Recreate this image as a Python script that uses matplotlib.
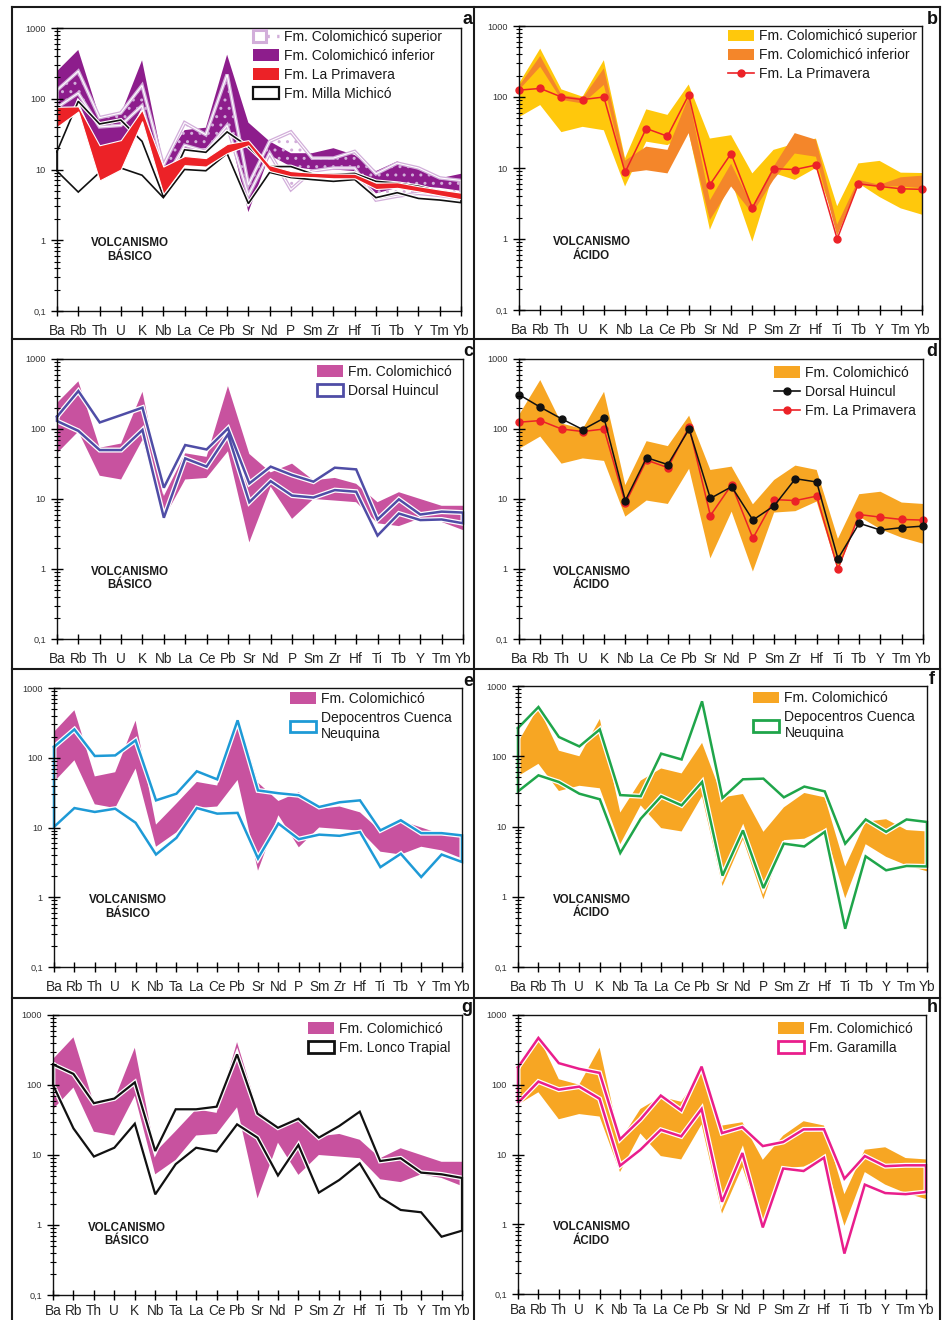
import numpy as np
import matplotlib
matplotlib.use("Agg")
import matplotlib.pyplot as plt
from matplotlib.patches import Patch
from matplotlib.lines import Line2D
from matplotlib.legend_handler import HandlerTuple
from matplotlib.ticker import FixedLocator, FixedFormatter, LogLocator, NullFormatter
import matplotlib.patheffects as pe

plt.rcParams['font.family'] = ['Liberation Sans', 'DejaVu Sans']
plt.rcParams['hatch.linewidth'] = 1.0

# ---------------------------------------------------------------- data
ELEM_20 = ['Ba', 'Rb', 'Th', 'U', 'K', 'Nb', 'La', 'Ce', 'Pb', 'Sr', 'Nd', 'P',
           'Sm', 'Zr', 'Hf', 'Ti', 'Tb', 'Y', 'Tm', 'Yb']
ELEM_21 = ['Ba', 'Rb', 'Th', 'U', 'K', 'Nb', 'Ta', 'La', 'Ce', 'Pb', 'Sr', 'Nd',
           'P', 'Sm', 'Zr', 'Hf', 'Ti', 'Tb', 'Y', 'Tm', 'Yb']
Y_TICKS = [0.1, 1, 10, 100, 1000]
Y_TICK_LABELS = ['0,1', '1', '10', '100', '1000']

# (a) basic volcanism
sup_hi = [132, 245, 54, 63, 154, 11.4, 46, 31, 220, 6.1, 25, 34, 14.5, 14.5, 18, 8.7, 12.3, 10.5, 7.6, 7.0]
sup_lo = [75, 120, 40, 42, 80, 6.5, 22, 18, 42, 4.3, 17, 5.2, 9.5, 10.5, 10.5, 3.7, 4.2, 4.6, 4.3, 3.9]
inf_hi = [245, 490, 55, 60, 350, 12, 36, 39, 420, 46, 25, 17, 17, 20, 16, 9.5, 13, 10, 7.5, 8.7]
inf_lo = [45, 90, 20, 19, 75, 5.5, 19, 20, 45, 2.5, 16, 11, 10, 10, 9.5, 4.6, 5.5, 5.8, 5.5, 5.0]
pri_hi = [77, 78, 22, 26, 70, 11, 15.5, 14.5, 23, 26, 11.5, 9.5, 9, 8.8, 8.7, 6.5, 6.6, 5.8, 5.2, 4.7]
pri_lo = [40, 66, 7, 10, 48, 4.5, 11.5, 11, 17, 22, 9.5, 8, 7.8, 7.5, 7.5, 5.3, 5.5, 4.9, 4.3, 3.8]
mil_hi = [18, 92, 44, 50, 25, 4.2, 19, 17.5, 34, 21, 11, 11, 8.7, 8.5, 8.8, 6.8, 6.4, 5.8, 4.9, 4.4]
mil_lo = [9.5, 4.8, 9.1, 10.5, 8.3, 4.0, 10, 9.6, 16.8, 3.3, 9.1, 7.7, 7.2, 6.8, 7.2, 4.0, 4.7, 3.9, 3.7, 3.4]

# (b) acid volcanism
yel_hi = [155, 480, 128, 101, 330, 13.7, 67, 56, 150, 26, 29, 8.4, 18, 22, 26, 2.9, 11.6, 12.6, 8.6, 8.5]
yel_lo = [52, 77, 32, 38, 34, 5.5, 23.5, 21, 32, 1.35, 6.8, 0.92, 8.5, 6.8, 10, 1.5, 6.1, 3.9, 2.7, 2.2]
ora_hi = [143, 378, 107, 96, 253, 12.7, 20, 18, 100, 3.5, 11.5, 2.85, 10.4, 31, 25, 1.6, 6.8, 5.8, 7.4, 7.8]
ora_lo = [125, 267, 91, 81, 148, 8.5, 9.3, 8.4, 31, 1.85, 5.5, 2.3, 6.8, 16, 14.4, 1.1, 5.8, 5.5, 5.5, 5.2]
pri_acid = [125, 132, 100, 92, 100, 8.7, 36, 28, 107, 5.8, 16, 2.75, 9.8, 9.5, 11, 1.0, 6.0, 5.5, 5.1, 5.0]

# (c, e, g) Colomichicó basic envelope; (d, f, h) Colomichicó acid envelope
basic_hi = [235, 480, 54, 62, 340, 11, 45, 40, 410, 44, 24, 32, 18.5, 20, 16.5, 9, 12.5, 10, 8, 8]
basic_lo = [45, 92, 21.5, 19, 70, 5.3, 19, 20, 48, 2.4, 15, 5.2, 10, 9.5, 9, 4.5, 4.1, 5.3, 4.7, 3.6]
basic_ta_hi, basic_ta_lo = 22, 8.5
acid_hi = [158, 500, 120, 100, 340, 15.8, 67, 57, 155, 26, 29, 8.4, 18.7, 30, 26, 2.7, 11.7, 12.7, 8.9, 8.5]
acid_lo = [52, 78, 32, 38, 35, 5.6, 9.5, 8.5, 27, 1.42, 6.6, 0.92, 6.4, 6.7, 9.2, 0.95, 5.6, 3.7, 2.8, 2.3]
acid_ta_hi, acid_ta_lo = 45, 20

# (c) Dorsal Huincul basic
dhb_hi = [150, 349, 124, 158, 202, 14.5, 59, 51, 102, 16.7, 29, 22, 17.7, 28, 26.5, 5.1, 9.9, 6.0, 6.6, 6.4]
dhb_lo = [130, 94, 50, 50, 97, 5.4, 38, 29, 84, 9.0, 18, 11.2, 10.5, 13.4, 12.7, 3.0, 6.2, 5.0, 5.1, 4.5]
# (d) Dorsal Huincul acid
dh_acid = [310, 205, 140, 98, 143, 9.5, 39, 31, 100, 10.2, 15, 5.0, 8.0, 19.5, 17.5, 1.4, 4.5, 3.6, 3.9, 4.1]

# (e) / (f) Depocentros Cuenca Neuquina
dep_e_hi = [143, 255, 106, 108, 178, 24.5, 30.5, 64, 49, 344, 34, 31, 29, 19.7, 23, 24.5, 9.1, 12.7, 8.3, 8.3, 7.7]
dep_e_lo = [10.2, 19, 16.7, 18.6, 11.7, 4.1, 7.1, 19, 15.8, 16.2, 3.6, 11.4, 6.8, 7.9, 7.6, 8.6, 2.7, 4.2, 1.95, 4.1, 3.2]
dep_f_hi = [252, 502, 188, 138, 241, 28, 27, 109, 90, 605, 25.5, 47, 48, 26, 37, 31.6, 5.7, 12.6, 8.4, 12.6, 11.6]
dep_f_lo = [31.6, 53.5, 43, 29.3, 24.4, 4.2, 12.9, 26.9, 20, 43, 2.0, 8.8, 1.33, 5.7, 5.2, 8.4, 0.35, 3.76, 2.38, 2.74, 2.7]

# (g) Fm. Lonco Trapial ; (h) Fm. Garamilla
lt_hi = [197, 144, 55, 64, 109, 11.4, 45, 45, 49, 274, 39, 24.5, 33, 17.7, 26, 41.6, 8.2, 9.0, 5.6, 5.3, 4.7]
lt_lo = [100, 24, 9.5, 12.7, 28, 2.74, 7.4, 12.7, 11.2, 27.4, 17.7, 5.1, 13.9, 2.9, 4.4, 7.6, 2.5, 1.64, 1.52, 0.68, 0.83]
gar_hi = [178, 469, 204, 169, 148, 16.5, 31.8, 70, 43, 182, 20.3, 24.7, 13.2, 15.1, 22.9, 23, 4.5, 9.5, 6.8, 7.0, 7.0]
gar_lo = [55, 111, 85, 94, 63, 6.9, 11.7, 22.6, 18.2, 45, 2.1, 10.5, 0.90, 6.3, 5.8, 9.0, 0.38, 3.7, 2.8, 2.7, 2.9]

# ---------------------------------------------------------------- colours
PURPLE = '#8D1D8C'
LILAC = '#D2AEDA'
RED = '#EC2227'
YELLOW = '#FFC80C'
ORANGE_B = '#F4862A'
ORANGE = '#F7A623'
PINK = '#C8529F'
VIOLET = '#4F4DA6'
BLUE = '#1E9AD6'
GREEN = '#1FA54A'
MAGENTA = '#E91E8C'
BLACK = '#111111'

W, H = 947, 1320
fig = plt.figure(figsize=(W / 100, H / 100), dpi=100)


def add_axes(l, r, t, b):
    return fig.add_axes([l / W, 1 - b / H, (r - l) / W, (b - t) / H])


def with_ta(values, ta):
    v = list(values)
    return v[:6] + [ta] + v[6:]


def style_axes(ax, elems, label, xpad=6):
    n = len(elems)
    ax.set_yscale('log')
    ax.set_ylim(0.1, 1000)
    ax.set_xlim(0, n - 1)
    ax.xaxis.set_major_locator(FixedLocator(range(n)))
    ax.xaxis.set_major_formatter(FixedFormatter(elems))
    ax.yaxis.set_major_locator(FixedLocator(Y_TICKS))
    ax.yaxis.set_major_formatter(FixedFormatter(Y_TICK_LABELS))
    ax.yaxis.set_minor_locator(LogLocator(base=10, subs=np.arange(2, 10), numticks=20))
    ax.yaxis.set_minor_formatter(NullFormatter())
    ax.tick_params(axis='x', direction='inout', length=7, width=1.0, pad=xpad,
                   labelsize=9.8, labelcolor='#262626')
    ax.tick_params(axis='y', which='major', direction='inout', length=8, width=1.0,
                   pad=4, labelsize=6.6, labelcolor='#333333')
    ax.tick_params(axis='y', which='minor', direction='inout', length=4, width=0.8)
    for s in ax.spines.values():
        s.set_linewidth(1.0)
        s.set_color(BLACK)
        s.set_zorder(20)
    ax.xaxis.set_zorder(21)
    ax.yaxis.set_zorder(21)
    ax.text(0.18, 0.215, 'VOLCANISMO\n' + label, transform=ax.transAxes,
            ha='center', va='center', fontsize=8.3, fontweight='bold',
            color='#1a1a1a', linespacing=1.15)


def band(ax, lo, hi, color, z=2, **kw):
    x = np.arange(len(lo))
    ax.fill_between(x, lo, hi, facecolor=color, edgecolor='none', lw=0, zorder=z, **kw)


def outline(ax, lo, hi, color, lw=1.8, z=4, halo=1.8):
    x = np.arange(len(lo))
    xs = np.r_[x, x[::-1], x[0]]
    ys = np.r_[hi, np.asarray(lo)[::-1], hi[0]]
    ax.plot(xs, ys, color=color, lw=lw, zorder=z, clip_on=False,
            solid_joinstyle='miter',
            path_effects=[pe.Stroke(linewidth=lw + halo, foreground='white'), pe.Normal()])


def dotted_line(ax, y, color, z=5):
    x = np.arange(len(y))
    ax.plot(x, y, color=color, lw=1.1, marker='o', ms=5, mfc=color, mec=color,
            zorder=z, clip_on=False)


def legend(ax, handles, labels, fx, fy, **kw):
    leg = ax.legend(handles, labels, loc='upper left', bbox_to_anchor=(fx, fy),
                    frameon=False, fontsize=10, borderpad=0, borderaxespad=0,
                    handlelength=1.85, handleheight=0.9, handletextpad=0.4,
                    labelspacing=0.36, labelcolor='#1a1a1a', **kw)
    leg.set_zorder(30)


def box_handle(color, lw=2.0):
    return Patch(facecolor='white', edgecolor=color, lw=lw)


# ---------------------------------------------------------------- panel frame
def fig_line(x0, y0, x1, y1):
    fig.add_artist(Line2D([x0 / W, x1 / W], [1 - y0 / H, 1 - y1 / H],
                          transform=fig.transFigure, color='#1a1a1a', lw=1.5))


for yy in (7, 339, 669, 998):
    fig_line(12, yy, 940, yy)
for xx in (12, 474, 940):
    fig_line(xx, 7, xx, 1320)

for letter, (px, py) in zip('abcdefgh', [(467, 19), (932, 19), (468, 351), (932, 351),
                                         (468, 681), (932, 680), (467, 1008), (932, 1008)]):
    fig.text(px / W, 1 - py / H, letter, ha='center', va='center',
             fontsize=13, fontweight='bold', color=BLACK)

x20 = np.arange(20)

# ---------------------------------------------------------------- (a)
ax = add_axes(57, 461, 28, 311)
style_axes(ax, ELEM_20, 'BÁSICO')
band(ax, inf_lo, inf_hi, PURPLE, z=2)
ax.fill_between(x20, sup_lo, sup_hi, facecolor='none', edgecolor=LILAC,
                hatch='..', lw=0, zorder=3)
xs = np.r_[x20, x20[::-1], 0]
ys = np.r_[sup_hi, np.asarray(sup_lo)[::-1], sup_hi[0]]
ax.plot(xs, ys, color=LILAC, lw=2.6, zorder=3.2, solid_joinstyle='miter')
ax.plot(xs, ys, color='white', lw=0.8, zorder=3.3, solid_joinstyle='miter')
outline(ax, mil_lo, mil_hi, BLACK, lw=1.2, z=4, halo=1.6)
ax.fill_between(x20, pri_lo, pri_hi, facecolor=RED, edgecolor='white', lw=0.8, zorder=5)
sup_handle = (Patch(facecolor='white', edgecolor=LILAC, lw=2.2),
              Line2D([], [], color=LILAC, ls=(0, (1.0, 2.2)), lw=2.4))
legend(ax, [sup_handle, Patch(facecolor=PURPLE), Patch(facecolor=RED), box_handle(BLACK, 1.6)],
       ['Fm. Colomichicó superior', 'Fm. Colomichicó inferior', 'Fm. La Primavera',
        'Fm. Milla Michicó'], 0.485, 0.993,
       handler_map={tuple: HandlerTuple(ndivide=None)})

# ---------------------------------------------------------------- (b)
ax = add_axes(519, 922, 26, 310)
style_axes(ax, ELEM_20, 'ÁCIDO')
band(ax, yel_lo, yel_hi, YELLOW, z=2)
band(ax, ora_lo, ora_hi, ORANGE_B, z=3)
dotted_line(ax, pri_acid, RED)
legend(ax, [Patch(facecolor=YELLOW), Patch(facecolor=ORANGE_B),
            Line2D([], [], color=RED, lw=1.2, marker='o', ms=5)],
       ['Fm. Colomichicó superior', 'Fm. Colomichicó inferior', 'Fm. La Primavera'],
       0.519, 0.989, numpoints=1)

# ---------------------------------------------------------------- (c)
ax = add_axes(57, 463, 359, 639)
style_axes(ax, ELEM_20, 'BÁSICO')
band(ax, basic_lo, basic_hi, PINK)
outline(ax, dhb_lo, dhb_hi, VIOLET, lw=1.8)
legend(ax, [Patch(facecolor=PINK), box_handle(VIOLET)],
       ['Fm. Colomichicó', 'Dorsal Huincul'], 0.640, 0.979)

# ---------------------------------------------------------------- (d)
ax = add_axes(519, 923, 359, 639)
style_axes(ax, ELEM_20, 'ÁCIDO')
band(ax, acid_lo, acid_hi, ORANGE)
dotted_line(ax, pri_acid, RED, z=5)
dotted_line(ax, dh_acid, BLACK, z=6)
legend(ax, [Patch(facecolor=ORANGE),
            Line2D([], [], color=BLACK, lw=1.2, marker='o', ms=5),
            Line2D([], [], color=RED, lw=1.2, marker='o', ms=5)],
       ['Fm. Colomichicó', 'Dorsal Huincul', 'Fm. La Primavera'],
       0.631, 0.975, numpoints=1)

# ---------------------------------------------------------------- (e)
ax = add_axes(54, 462, 688, 967)
style_axes(ax, ELEM_21, 'BÁSICO')
band(ax, with_ta(basic_lo, basic_ta_lo), with_ta(basic_hi, basic_ta_hi), PINK)
outline(ax, dep_e_lo, dep_e_hi, BLUE, lw=1.8)
legend(ax, [Patch(facecolor=PINK), box_handle(BLUE)],
       ['Fm. Colomichicó', 'Depocentros Cuenca\nNeuquina'], 0.578, 0.986)

# ---------------------------------------------------------------- (f)
ax = add_axes(518, 927, 686, 967)
style_axes(ax, ELEM_21, 'ÁCIDO')
band(ax, with_ta(acid_lo, acid_ta_lo), with_ta(acid_hi, acid_ta_hi), ORANGE)
outline(ax, dep_f_lo, dep_f_hi, GREEN, lw=1.8)
legend(ax, [Patch(facecolor=ORANGE), box_handle(GREEN)],
       ['Fm. Colomichicó', 'Depocentros Cuenca\nNeuquina'], 0.575, 0.982)

# ---------------------------------------------------------------- (g)
ax = add_axes(53, 462, 1015, 1295)
style_axes(ax, ELEM_21, 'BÁSICO', xpad=3)
band(ax, with_ta(basic_lo, basic_ta_lo), with_ta(basic_hi, basic_ta_hi), PINK)
outline(ax, lt_lo, lt_hi, BLACK, lw=1.6)
legend(ax, [Patch(facecolor=PINK), box_handle(BLACK)],
       ['Fm. Colomichicó', 'Fm. Lonco Trapial'], 0.623, 0.975)

# ---------------------------------------------------------------- (h)
ax = add_axes(518, 926, 1015, 1294)
style_axes(ax, ELEM_21, 'ÁCIDO', xpad=3)
band(ax, with_ta(acid_lo, acid_ta_lo), with_ta(acid_hi, acid_ta_hi), ORANGE)
outline(ax, gar_lo, gar_hi, MAGENTA, lw=1.8)
legend(ax, [Patch(facecolor=ORANGE), box_handle(MAGENTA)],
       ['Fm. Colomichicó', 'Fm. Garamilla'], 0.637, 0.975)

fig.savefig('out.png', dpi=100, facecolor='white')
